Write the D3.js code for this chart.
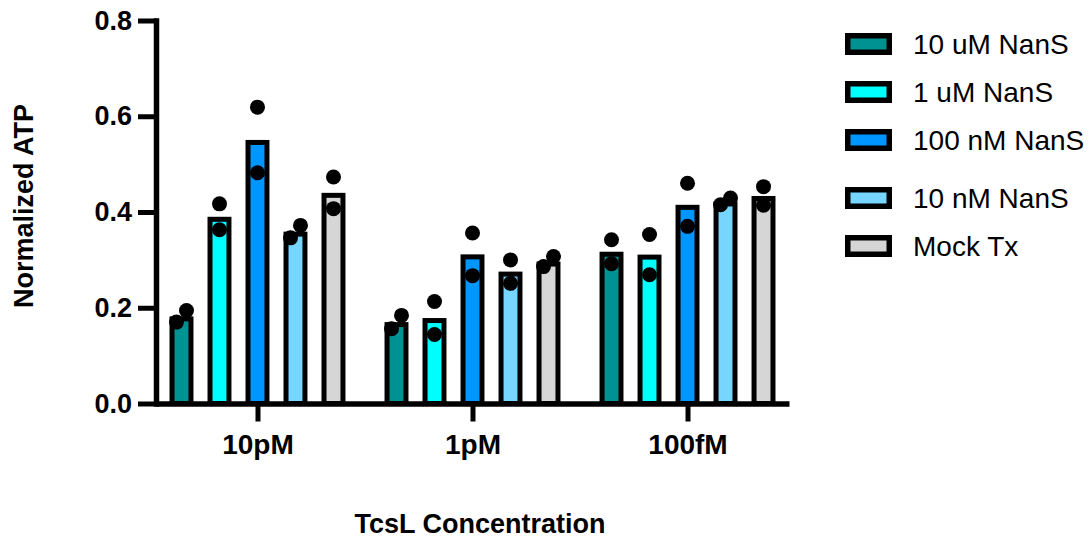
<!DOCTYPE html>
<html>
<head>
<meta charset="utf-8">
<script src="https://cdn.jsdelivr.net/npm/d3@7"></script>
<style>
    body { margin: 0; background: #fff; }
    svg { display: block; font-family: "Liberation Sans", Arial, Helvetica, sans-serif; }
</style>
</head>
<body>
<div id="chart"></div>
<script>
// categories on the x axis and the treatment groups
const categories = ["10pM", "1pM", "100fM"]
const seriesNames = ["10 uM NanS", "1 uM NanS", "100 nM NanS", "10 nM NanS", "Mock Tx"]
const seriesColors = ["#009193", "#00FDFF", "#0096FF", "#76D6FF", "#D6D6D6"]

// two replicates per category
const nans10uM = [[0.170, 0.194], [0.156, 0.184], [0.292, 0.342]]
const nans1uM = [[0.363, 0.417], [0.144, 0.213], [0.269, 0.353]]
const nans100nM = [[0.482, 0.619], [0.267, 0.356], [0.370, 0.460]]
const nans10nM = [[0.346, 0.372], [0.251, 0.300], [0.415, 0.429]]
const mockTx = [[0.407, 0.473], [0.286, 0.307], [0.414, 0.453]]

const yTicks = [0, 0.2, 0.4, 0.6, 0.8]

const seriesValues = [nans10uM, nans1uM, nans100nM, nans10nM, mockTx]

const width = 1091, height = 540
const border = 5

let svg = d3.select("#chart").append("svg")
    .attr("width", width)
    .attr("height", height)

// scales
let x0 = d3.scalePoint()
    .domain(categories)
    .range([156, 789])
    .padding(0.472)

let x1 = d3.scaleBand()
    .domain(seriesNames)
    .range([-95, 95])
    .paddingInner(0.37)
    .paddingOuter(0.185)

let y = d3.scaleLinear()
    .domain([0, 0.8])
    .range([403.5, 20.5])

// flatten into one row per bar
let bars = []
seriesNames.forEach((name, s) => {
    categories.forEach((cat, c) => {
        let reps = seriesValues[s][c]
        bars.push({ name: name, cat: cat, color: seriesColors[s], reps: reps, mean: d3.mean(reps) })
    })
})

// bars, border drawn inside the bar outline
let barG = svg.append("g")
barG.selectAll("rect")
    .data(bars)
    .join("rect")
    .attr("x", d => x0(d.cat) + x1(d.name) + border / 2)
    .attr("y", d => y(d.mean) + border / 2)
    .attr("width", x1.bandwidth() - border)
    .attr("height", d => y(0) - y(d.mean) - border / 2)
    .attr("fill", d => d.color)
    .attr("stroke", "#000")
    .attr("stroke-width", border)

// replicate dots, nudged sideways when they overlap
let dots = []
bars.forEach(b => {
    let reps = b.reps.slice().sort((a, c) => a - c)
    let close = Math.abs(y(reps[0]) - y(reps[1])) < 15
    reps.forEach((v, i) => {
        let shift = close ? (i === 0 ? -5 : 5) : 0
        dots.push({ cx: x0(b.cat) + x1(b.name) + x1.bandwidth() / 2 + shift, v: v })
    })
})

svg.append("g").selectAll("circle")
    .data(dots)
    .join("circle")
    .attr("cx", d => d.cx)
    .attr("cy", d => y(d.v))
    .attr("r", 7.5)
    .attr("fill", "#000")

// y axis
let yAxis = svg.append("g")
    .attr("transform", `translate(156,0)`)
    .call(d3.axisLeft(y).tickValues(yTicks).tickFormat(d3.format(".1f")).tickSize(18).tickSizeOuter(0).tickPadding(6))
yAxis.select(".domain").attr("stroke-width", 5.5).attr("stroke-linecap", "square")
yAxis.selectAll(".tick line").attr("stroke-width", 5)
yAxis.selectAll(".tick text")
    .attr("font-size", 27)
    .attr("font-weight", "bold")
    .attr("font-family", "Liberation Sans, Arial, sans-serif")
    .attr("fill", "#000")

// x axis
let xAxis = svg.append("g")
    .attr("transform", `translate(0,${y(0)})`)
    .call(d3.axisBottom(x0).tickSize(18).tickSizeOuter(0).tickPadding(13))
xAxis.select(".domain").attr("stroke-width", 5.5)
xAxis.selectAll(".tick line").attr("stroke-width", 5)
xAxis.selectAll(".tick text")
    .attr("font-size", 28)
    .attr("font-weight", "bold")
    .attr("font-family", "Liberation Sans, Arial, sans-serif")
    .attr("fill", "#000")

// axis titles
svg.append("text")
    .attr("x", 480)
    .attr("y", 533)
    .attr("text-anchor", "middle")
    .attr("font-size", 27)
    .attr("font-weight", "bold")
    .text("TcsL Concentration")

svg.append("text")
    .attr("transform", "translate(33,206) rotate(-90)")
    .attr("text-anchor", "middle")
    .attr("font-size", 27)
    .attr("font-weight", "bold")
    .text("Normalized ATP")

// legend, with the small extra gap before the fourth row
let legend = svg.append("g").selectAll("g")
    .data(seriesNames)
    .join("g")
    .attr("transform", (d, i) => `translate(845,${44 + i * 48 + (i >= 3 ? 10 : 0)})`)

legend.append("rect")
    .attr("x", 2.75)
    .attr("y", -11 + 2.75)
    .attr("width", 47 - 5.5)
    .attr("height", 22 - 5.5)
    .attr("fill", (d, i) => seriesColors[i])
    .attr("stroke", "#000")
    .attr("stroke-width", 5.5)

legend.append("text")
    .attr("x", 68)
    .attr("y", 0)
    .attr("dy", "0.36em")
    .attr("font-size", 28)
    .text(d => d)
</script>
</body>
</html>
